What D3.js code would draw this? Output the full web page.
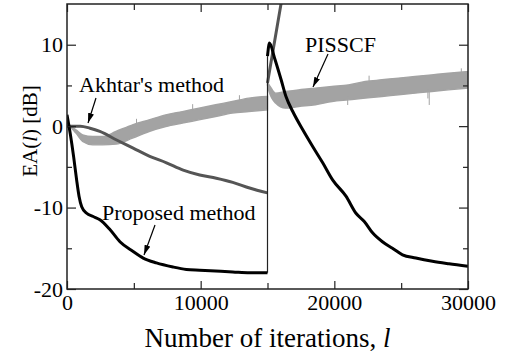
<!DOCTYPE html>
<html>
<head>
<meta charset="utf-8">
<script src="https://cdn.jsdelivr.net/npm/d3@7"></script>
<style>
  html, body { margin: 0; padding: 0; background: #fff; }
  svg { display: block; font-family: "Liberation Serif", "Times New Roman", serif; }
</style>
</head>
<body>
<script>
// Data (iterations, dB)
const propIter1 = [0, 250, 500, 720, 900, 1100, 1470, 1960, 2460, 3210, 3960, 4950, 5700, 6690, 7930, 8930, 9930, 12400, 13660, 15000]
const propEA1 = [1.4, -1.0, -3.8, -6.6, -8.6, -9.9, -10.7, -11.1, -11.5, -12.7, -14.2, -15.4, -16.2, -16.8, -17.3, -17.6, -17.7, -17.9, -18.0, -18.0]
const propIter2 = [15000, 15150, 15520, 16020, 16390, 16890, 17640, 18380, 19130, 19870, 20870, 21620, 22240, 22860, 23600, 24350, 25100, 26100, 27340, 28580, 30000]
const propEA2 = [8.6, 10.2, 8.4, 5.7, 3.6, 1.8, -0.45, -2.5, -4.5, -6.6, -8.6, -10.7, -11.7, -13.1, -14.2, -15.0, -15.8, -16.2, -16.6, -16.9, -17.2]

const akhIter1 = [0, 1000, 1720, 2460, 3710, 4950, 6190, 7440, 8690, 9930, 11170, 12400, 13660, 15000]
const akhEA1 = [0, 0, -0.25, -0.65, -1.7, -2.7, -3.7, -4.5, -5.4, -6.0, -6.4, -6.9, -7.6, -8.2]
const akhIter2 = [15000, 16020, 16300]
const akhEA2 = [5.3, 15.1, 17.8]

// PISSCF is a noisy band: upper / lower envelope
const pisIter1 = [0, 170, 670, 1170, 1920, 2660, 3660, 4900, 6140, 7390, 8630, 9870, 11120, 12370, 13600, 15000]
const pisHi1 = [0, 0, -0.45, -1.07, -1.28, -1.28, -0.66, 0.16, 0.77, 1.39, 1.79, 2.21, 2.62, 3.02, 3.44, 3.64]
const pisLo1 = [0, -0.05, -0.86, -1.89, -2.30, -2.30, -2.21, -1.47, -0.66, -0.05, 0.37, 0.77, 1.18, 1.60, 1.79, 2.00]
const pisIter2 = [15000, 15120, 15600, 16340, 17340, 18580, 19830, 21070, 22310, 23560, 24800, 26040, 27290, 28530, 30000]
const pisHi2 = [5.3, 5.07, 4.05, 4.25, 4.46, 4.67, 4.87, 5.07, 5.48, 5.69, 5.9, 6.1, 6.3, 6.5, 6.7]
const pisLo2 = [5.0, 4.25, 2.83, 2.21, 2.41, 2.62, 3.02, 3.23, 3.44, 3.64, 3.85, 4.05, 4.25, 4.46, 4.67]
// a few visible spikes: [iteration, from, to]
const pisSpikes = [[5200, 0.0, 0.9], [9400, 2.0, 2.7], [12900, 3.0, 3.8], [21000, 3.6, 2.6], [22600, 5.3, 6.2], [27000, 4.5, 3.4], [29500, 6.4, 7.1], [27100, 4.5, 2.6]]

const xMajor = [0, 10000, 20000, 30000]
const xMinor = [5000, 15000, 25000]
const yMajor = [-20, -10, 0, 10]
const yMinor = [-15, -5, 5]

const labels = [
  { text: "Akhtar's method", x: 79, y: 92, from: [96, 98], to: [88, 123] },
  { text: "Proposed method", x: 102, y: 220, from: [155, 225], to: [144, 255] },
  { text: "PISSCF", x: 305, y: 52, from: [328, 54], to: [313, 87] },
]

// Setup
const width = 506, height = 359
const plot = { left: 67, right: 468, top: 4, bottom: 289 }
const svg = d3.select("body").append("svg").attr("width", width).attr("height", height)

const x = d3.scaleLinear().domain([0, 30000]).range([plot.left, plot.right])
const y = d3.scaleLinear().domain([-20, 15]).range([plot.bottom, plot.top])

svg.append("defs").append("clipPath").attr("id", "clip")
  .append("rect")
  .attr("x", plot.left).attr("y", plot.top)
  .attr("width", plot.right - plot.left).attr("height", plot.bottom - plot.top)

const zip = (X, Y) => X.map((v, i) => [v, Y[i]])
const line = d3.line().curve(d3.curveMonotoneX).x(d => x(d[0])).y(d => y(d[1]))
const band = d3.area().curve(d3.curveMonotoneX).x(d => x(d[0])).y0(d => y(d[1])).y1(d => y(d[2]))

const g = svg.append("g").attr("clip-path", "url(#clip)")

// PISSCF band
for (const [I, H, L] of [[pisIter1, pisHi1, pisLo1], [pisIter2, pisHi2, pisLo2]]) {
  g.append("path")
    .datum(I.map((v, i) => [v, L[i], H[i]]))
    .attr("d", band)
    .attr("fill", "#a3a3a3")
    .attr("stroke", "#a3a3a3")
    .attr("stroke-width", 1.4)
}
g.append("g").selectAll("line")
  .data(pisSpikes)
  .join("line")
  .attr("x1", d => x(d[0])).attr("x2", d => x(d[0]))
  .attr("y1", d => y(d[1])).attr("y2", d => y(d[2]))
  .attr("stroke", "#a3a3a3")
  .attr("stroke-width", 1)

// Akhtar's method (thin jump at reset)
g.append("line")
  .attr("x1", x(akhIter1.at(-1))).attr("x2", x(akhIter2[0]))
  .attr("y1", y(akhEA1.at(-1))).attr("y2", y(akhEA2[0]))
  .attr("stroke", "#555")
  .attr("stroke-width", 1)
for (const [I, V] of [[akhIter1, akhEA1], [akhIter2, akhEA2]]) {
  g.append("path")
    .datum(zip(I, V))
    .attr("d", line)
    .attr("fill", "none")
    .attr("stroke", "#555")
    .attr("stroke-width", 3)
}

// Proposed method (thin jump at reset)
g.append("line")
  .attr("x1", x(propIter1.at(-1))).attr("x2", x(propIter2[0]))
  .attr("y1", y(propEA1.at(-1))).attr("y2", y(propEA2[0]))
  .attr("stroke", "#222")
  .attr("stroke-width", 1.2)
for (const [I, V] of [[propIter1, propEA1], [propIter2, propEA2]]) {
  g.append("path")
    .datum(zip(I, V))
    .attr("d", line)
    .attr("fill", "none")
    .attr("stroke", "#000")
    .attr("stroke-width", 3)
    .attr("stroke-linejoin", "round")
}

// Axes (ticks inward on all four sides)
const fontsize = 22
const styleTicks = (sel) => {
  sel.select(".domain").remove()
  sel.selectAll(".tick line").attr("stroke", "#222").attr("stroke-width", 1.2)
  sel.selectAll("text").attr("fill", "#000").attr("font-family", "Liberation Serif").style("font-size", `${fontsize}px`)
}
svg.append("g").attr("transform", `translate(0,${plot.bottom})`)
  .call(d3.axisBottom(x).tickValues(xMajor).tickSize(-8).tickPadding(5).tickFormat(d3.format("d")))
  .call(styleTicks)
svg.append("g").attr("transform", `translate(0,${plot.bottom})`)
  .call(d3.axisBottom(x).tickValues(xMinor).tickSize(-6).tickFormat(""))
  .call(styleTicks)
svg.append("g").attr("transform", `translate(0,${plot.top})`)
  .call(d3.axisTop(x).tickValues(xMajor).tickSize(-8).tickFormat(""))
  .call(styleTicks)
svg.append("g").attr("transform", `translate(0,${plot.top})`)
  .call(d3.axisTop(x).tickValues(xMinor).tickSize(-6).tickFormat(""))
  .call(styleTicks)
svg.append("g").attr("transform", `translate(${plot.left},0)`)
  .call(d3.axisLeft(y).tickValues(yMajor).tickSize(-9).tickPadding(4).tickFormat(d => `${d}`))
  .call(styleTicks)
svg.append("g").attr("transform", `translate(${plot.left},0)`)
  .call(d3.axisLeft(y).tickValues(yMinor).tickSize(-5).tickFormat(""))
  .call(styleTicks)
svg.append("g").attr("transform", `translate(${plot.right},0)`)
  .call(d3.axisRight(y).tickValues(yMajor).tickSize(-9).tickFormat(""))
  .call(styleTicks)
svg.append("g").attr("transform", `translate(${plot.right},0)`)
  .call(d3.axisRight(y).tickValues(yMinor).tickSize(-5).tickFormat(""))
  .call(styleTicks)

// Frame
svg.append("rect")
  .attr("x", plot.left).attr("y", plot.top)
  .attr("width", plot.right - plot.left).attr("height", plot.bottom - plot.top)
  .attr("fill", "none")
  .attr("stroke", "#222")
  .attr("stroke-width", 1.5)

// Axis titles
const xt = svg.append("text")
  .attr("x", (plot.left + plot.right) / 2)
  .attr("y", 347)
  .attr("text-anchor", "middle")
  .style("font-size", "27px")
xt.append("tspan").text("Number of iterations,  ")
xt.append("tspan").attr("font-style", "italic").text("l")

const yt = svg.append("text")
  .attr("transform", `translate(37,131) rotate(-90)`)
  .attr("text-anchor", "middle")
  .style("font-size", "21px")
yt.append("tspan").text("EA(")
yt.append("tspan").attr("font-style", "italic").text("l")
yt.append("tspan").text(") [dB]")

// Annotations
svg.append("defs").append("marker")
  .attr("id", "head")
  .attr("viewBox", "0 0 10 6")
  .attr("refX", 10).attr("refY", 3)
  .attr("markerWidth", 10).attr("markerHeight", 6)
  .attr("markerUnits", "userSpaceOnUse")
  .attr("orient", "auto")
  .append("path")
  .attr("d", "M0,0 L10,3 L0,6 Z")
  .attr("fill", "#000")

const ann = svg.append("g")
ann.selectAll("text")
  .data(labels)
  .join("text")
  .attr("x", d => d.x)
  .attr("y", d => d.y)
  .style("font-size", "22px")
  .text(d => d.text)
ann.selectAll("line")
  .data(labels)
  .join("line")
  .attr("x1", d => d.from[0]).attr("y1", d => d.from[1])
  .attr("x2", d => d.to[0]).attr("y2", d => d.to[1])
  .attr("stroke", "#000")
  .attr("stroke-width", 1.2)
  .attr("marker-end", "url(#head)")
</script>
</body>
</html>
